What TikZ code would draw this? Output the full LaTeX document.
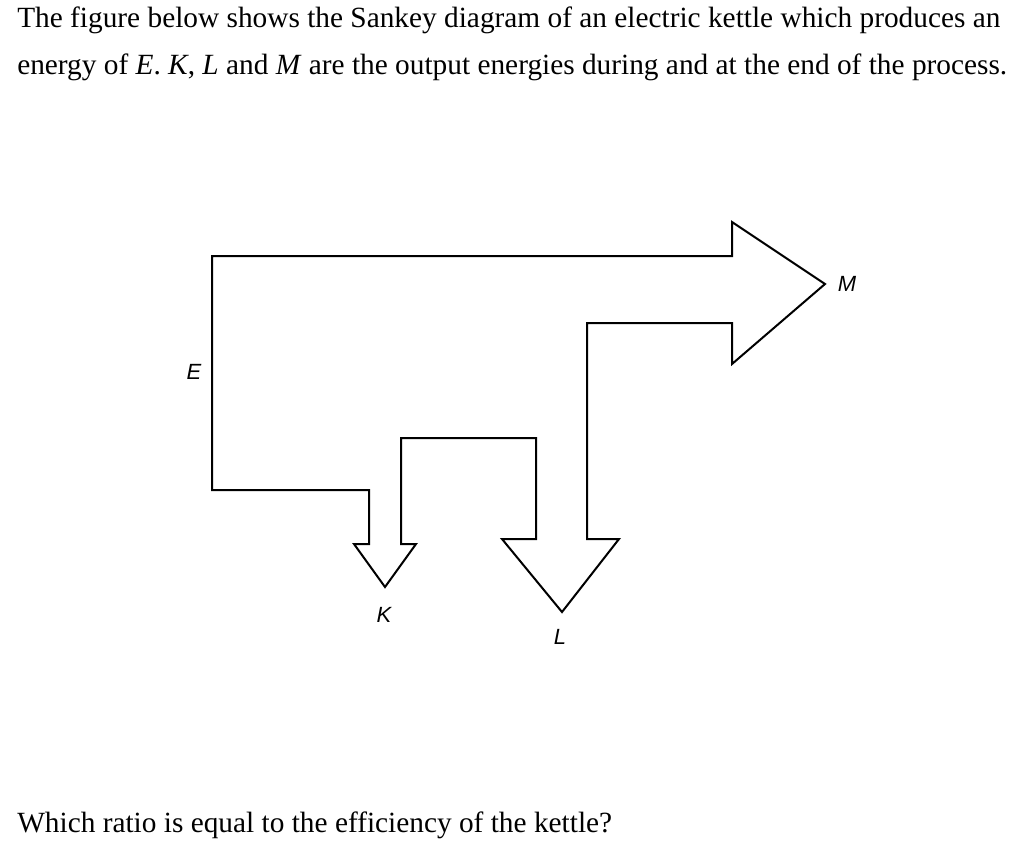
\documentclass[tikz,border=0pt]{standalone}
\usepackage{fontspec}
\setmainfont{Liberation Serif}
\newfontfamily\labelfont{Liberation Sans}
\usetikzlibrary{positioning}
\tikzset{
    flow/.style={draw, line width=1.5pt, line join=miter},
    tag/.style={font=\labelfont\itshape\fontsize{16.5}{19}\selectfont, inner sep=0},
    line/.style={anchor=base west, inner sep=0, font=\fontsize{22}{26}\selectfont}
  }

\begin{document}
\begin{tikzpicture}[x=0.75pt, y=-0.75pt]
            \useasboundingbox (0,0) rectangle (1024,851);
            \node (line1) [line] at (17,27) {The figure below shows the Sankey diagram of an electric kettle which produces an};
            \node (line2) [line] at (17,74) {energy of \textit{E}. \textit{K}, \textit{L} and \textit{M} are the output energies during and at the end of the process.};
            \draw[flow] (212,256) coordinate (in) -- ++(520,0) -- ++(0,-34) -- ++(93,62) coordinate (tipM) -- ++(-93,80) -- ++(0,-41) -- ++(-145,0) -- ++(0,216) -- ++(32,0) -- ++(-57,73) coordinate (tipL) -- ++(-60,-73) -- ++(34,0) -- ++(0,-101) -- ++(-135,0) -- ++(0,106) -- ++(15,0) -- ++(-31,43) coordinate (tipK) -- ++(-31,-43) -- ++(15,0) -- ++(0,-54) -- ++(-157,0) -- cycle;
            \node (E) [tag] at (194,372) {E};
            \node (K) [tag] at (384,615) {K};
            \node (L) [tag] at (560,637) {L};
            \node (M) [tag] at (847,284) {M};
            \node (question) [line] at (17,832) {Which ratio is equal to the efficiency of the kettle?};
        \end{tikzpicture}
\end{document}
